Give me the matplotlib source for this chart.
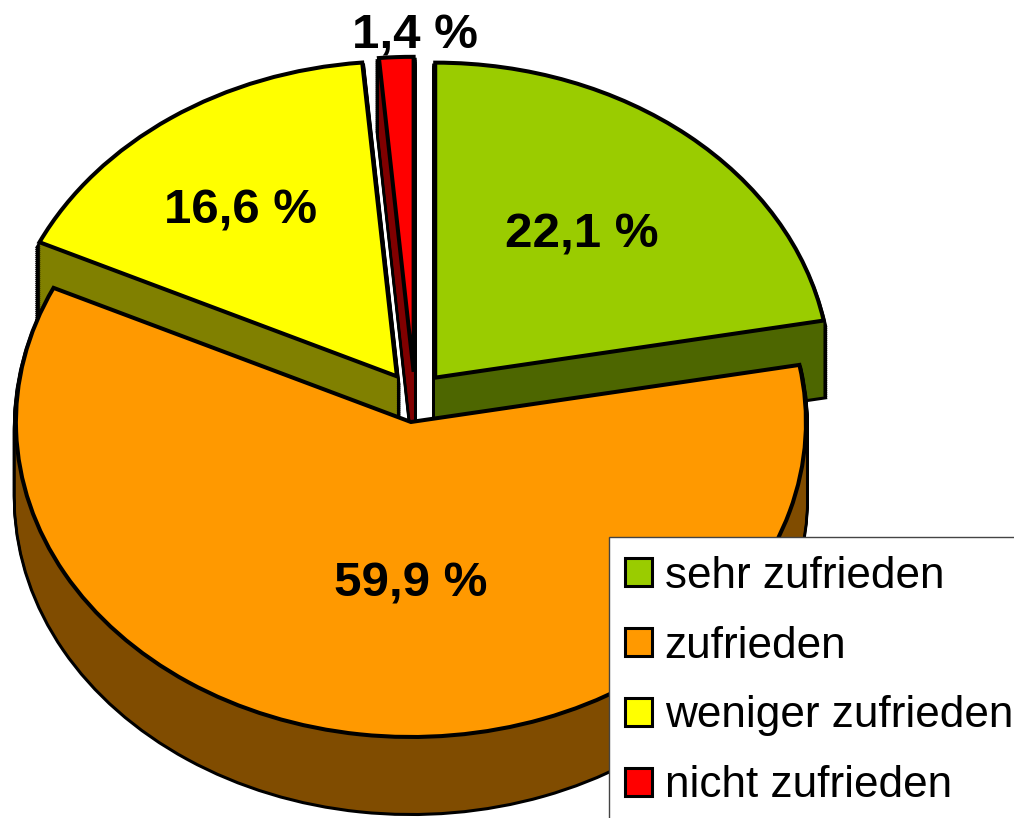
#!/usr/bin/env python3
"""
Exploded pie chart with a fake 3D side wall, made from stacked pies.
"""

import matplotlib
matplotlib.use('Agg')
import matplotlib.pyplot as plt
from matplotlib.patches import Patch, Rectangle

categories = ['sehr zufrieden', 'zufrieden', 'weniger zufrieden', 'nicht zufrieden']
values = [22.1, 59.9, 16.6, 1.4]
colors = ['#9ACC00', '#FF9900', '#FFFF00', '#FF0000']
wall_colors = ['#4D6600', '#804C00', '#808000', '#800000']
label_pos = [(582, 235), (411, 584), (241, 211), (415, 36)]

W, H = 1014, 818
CX, CY = 415, 397  # pie centre in pixels
RX, RY = 395, 315  # ellipse radii in pixels
DEPTH = 76
LW = 2.9

plt.rcParams['font.family'] = ['Liberation Sans', 'DejaVu Sans']

fig = plt.figure(figsize=(W / 100, H / 100), dpi=100)
ax = fig.add_axes([0, 0, 1, 1])


def draw_pie(offset, face, edge, base_z, lw=LW):
    wedges, _ = ax.pie(values, explode=[0.08] * 4, colors=face, startangle=90,
                       counterclock=False, center=(0, -offset / RY),
                       wedgeprops={'edgecolor': edge, 'linewidth': lw if edge else 0,
                                   'joinstyle': 'miter'})
    # orange goes on top of the others
    for i, w in enumerate(wedges):
        w.set_zorder((10 if i == 1 else 1) + base_z)
        if edge is None:
            w.set_edgecolor('none')


# black pass is wider so a rim stays visible round the side walls
for d in range(DEPTH, 3, -2):
    draw_pie(d, ['black'] * 4, 'black', 0, lw=4.4)
for d in range(DEPTH, -1, -2):
    draw_pie(d, wall_colors, None, 1)
draw_pie(0, colors, 'black', 2)

# axes limits chosen so one pie unit is RX by RY pixels
ax.set_aspect('auto')
ax.set_xlim(-CX / RX, (W - CX) / RX)
ax.set_ylim((CY - H) / RY, CY / RY)

for v, (x, y) in zip(values, label_pos):
    txt = f'{v:.1f} %'.replace('.', ',')
    ax.text(x / W, 1 - y / H, txt, transform=ax.transAxes, ha='center', va='center',
            fontsize=35.5, fontweight='bold', color='black', zorder=30)

# legend box runs off the canvas on the right and at the bottom
ax.add_patch(Rectangle((609 / W, -0.02), 0.45, 1 - 537 / H + 0.02, transform=ax.transAxes,
                       facecolor='white', edgecolor='#444444', linewidth=1, zorder=35))
handles = [Patch(facecolor=c, edgecolor='black', linewidth=2.2) for c in colors]
leg = ax.legend(handles, categories, loc='upper left',
                bbox_to_anchor=(625 / W, 1 - 556 / H), bbox_transform=ax.transAxes,
                borderaxespad=0, borderpad=0, fontsize=31.8, frameon=False,
                handlelength=0.6, handleheight=0.6, handletextpad=0.3,
                labelspacing=0.65)
leg.set_zorder(40)

plt.savefig('out.png', dpi=100)
plt.close()
